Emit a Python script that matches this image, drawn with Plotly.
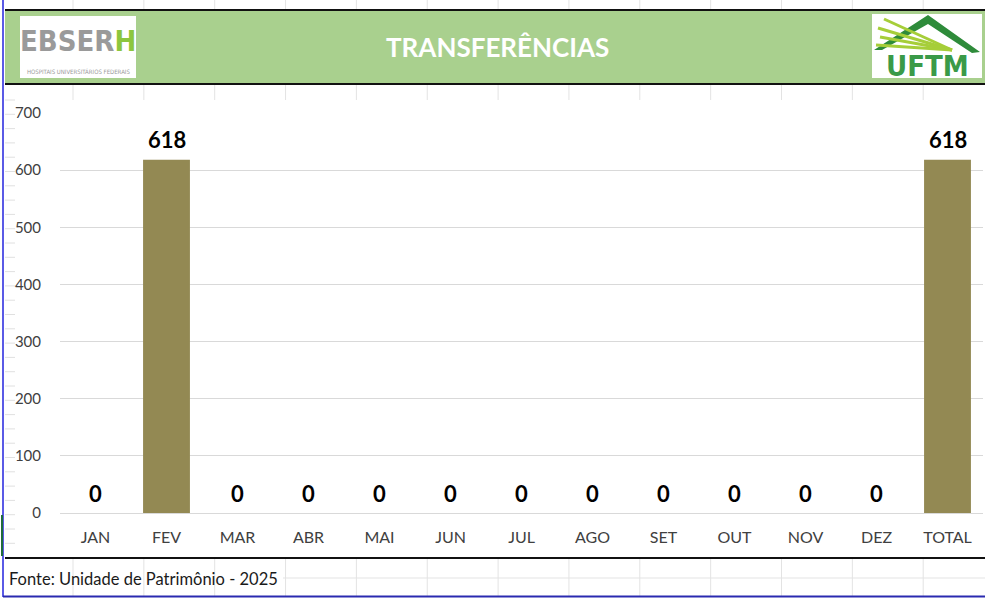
import plotly.graph_objects as go

# ---- data ----
categories = ["JAN", "FEV", "MAR", "ABR", "MAI", "JUN", "JUL", "AGO", "SET", "OUT", "NOV", "DEZ", "TOTAL"]
values = [0, 618, 0, 0, 0, 0, 0, 0, 0, 0, 0, 0, 618]
y_ticks = [0, 100, 200, 300, 400, 500, 600, 700]
title_text = "TRANSFERÊNCIAS"
source_text = "Fonte: Unidade de Patrimônio - 2025"

W, H = 985, 598
L, R, T, B = 60, 2, 113, 85
PW, PH = W - L - R, H - T - B


def px(x):
    return (x - L) / PW


def py(y):
    return (H - B - y) / PH


BAR = "#938953"
GREEN = "#A9D08E"
FONT = "Lato, 'Open Sans', sans-serif"

fig = go.Figure()
fig.add_trace(go.Bar(
    x=categories, y=values, marker=dict(color=BAR, line=dict(width=0)),
    hoverinfo="x+y", showlegend=False,
))

annotations = []
for c, v in zip(categories, values):
    annotations.append(dict(
        x=c, y=v, xref="x", yref="y", text=f"<b>{v}</b>", showarrow=False,
        yanchor="middle", yshift=20, font=dict(family=FONT, size=22, color="#000000"),
    ))

shapes = []
# faint spreadsheet cell lines behind
cell_col = "#E3E3E3"
for k in range(13):
    xx = 73 + k * 70.85
    for (y0, y1) in [(0, 10), (85, 100), (559, 596)]:
        shapes.append(dict(type="line", xref="paper", yref="paper",
                           x0=px(xx), x1=px(xx), y0=py(y0), y1=py(y1),
                           line=dict(color=cell_col, width=1), layer="below"))
shapes.append(dict(type="line", xref="paper", yref="paper",
                   x0=px(283), x1=px(985), y0=py(578), y1=py(578),
                   line=dict(color=cell_col, width=1), layer="below"))
ry = 100.0
while ry < 556:
    shapes.append(dict(type="line", xref="paper", yref="paper",
                       x0=px(5), x1=px(15), y0=py(ry), y1=py(ry),
                       line=dict(color="#E0E0E0", width=1), layer="below"))
    ry += 14.3

# header band
shapes.append(dict(type="rect", xref="paper", yref="paper",
                   x0=px(5), x1=px(985), y0=py(84), y1=py(10),
                   fillcolor=GREEN, line=dict(width=0)))
for yy in (10, 84, 558):
    shapes.append(dict(type="line", xref="paper", yref="paper",
                       x0=px(5), x1=px(985), y0=py(yy), y1=py(yy),
                       line=dict(color="#111111", width=2)))
# outer blue frame
shapes.append(dict(type="line", xref="paper", yref="paper",
                   x0=px(3), x1=px(3), y0=py(0), y1=py(597),
                   line=dict(color="#5A5AE6", width=2)))
shapes.append(dict(type="line", xref="paper", yref="paper",
                   x0=px(3), x1=px(985), y0=py(596.5), y1=py(596.5),
                   line=dict(color="#2A2AB0", width=2)))
shapes.append(dict(type="line", xref="paper", yref="paper",
                   x0=px(2), x1=px(2), y0=py(515), y1=py(556),
                   line=dict(color="#1F6B3A", width=2)))

# EBSERH logo box
shapes.append(dict(type="rect", xref="paper", yref="paper",
                   x0=px(20), x1=px(136), y0=py(78), y1=py(16),
                   fillcolor="#FFFFFF", line=dict(width=0)))
annotations.append(dict(x=px(78), y=py(41), xref="paper", yref="paper", showarrow=False,
                        text="<b>EBSER<span style='color:#8CC63E'>H</span></b>",
                        font=dict(family="'DejaVu Sans Condensed', 'DejaVu Sans'", size=29, color="#9A9A9A"),
                        xanchor="center", yanchor="middle"))
annotations.append(dict(x=px(78), y=py(72), xref="paper", yref="paper", showarrow=False,
                        text="HOSPITAIS UNIVERSITÁRIOS FEDERAIS",
                        font=dict(family="'DejaVu Sans Condensed', 'DejaVu Sans'", size=6, color="#9A9A9A"),
                        xanchor="center", yanchor="middle"))

# UFTM logo box
shapes.append(dict(type="rect", xref="paper", yref="paper",
                   x0=px(872), x1=px(982), y0=py(78), y1=py(14),
                   fillcolor="#FFFFFF", line=dict(width=0)))


def ppath(pts):
    s = "M " + " L ".join(f"{px(a)},{py(b)}" for a, b in pts) + " Z"
    return s


shapes.append(dict(type="path", xref="paper", yref="paper",
                   path=ppath([(874, 50), (928, 15), (980, 52), (972, 53), (928, 24), (882, 50)]),
                   fillcolor="#2E8B3A", line=dict(width=0)))
for (sx, sy) in [(884, 19), (878, 28), (880, 37), (876, 45)]:
    shapes.append(dict(type="line", xref="paper", yref="paper",
                       x0=px(sx), y0=py(sy), x1=px(952), y1=py(50),
                       line=dict(color="#A6CE39", width=3)))
annotations.append(dict(x=px(927), y=py(66), xref="paper", yref="paper", showarrow=False,
                        text="<b>UFTM</b>",
                        font=dict(family="'DejaVu Sans Condensed', 'DejaVu Sans'", size=29, color="#3A9A48"),
                        xanchor="center", yanchor="middle"))

# title
annotations.append(dict(x=px(497), y=py(47), xref="paper", yref="paper", showarrow=False,
                        text=f"<b>{title_text}</b>",
                        font=dict(family=FONT, size=26, color="#FFFFFF"),
                        xanchor="center", yanchor="middle"))
# source
annotations.append(dict(x=px(7), y=py(579), xref="paper", yref="paper", showarrow=False,
                        text=source_text,
                        font=dict(family=FONT, size=16.5, color="#1A1A1A"),
                        xanchor="left", yanchor="middle"))

fig.update_layout(
    width=W, height=H,
    margin=dict(l=L, r=R, t=T, b=B, pad=0),
    paper_bgcolor="#FFFFFF", plot_bgcolor="#FFFFFF",
    bargap=0.34,
    shapes=shapes, annotations=annotations,
    font=dict(family=FONT, size=14, color="#404040"),
)
fig.update_xaxes(
    type="category", showgrid=False, zeroline=False, showline=False,
    ticks="", ticklabelstandoff=13, tickfont=dict(family=FONT, size=16, color="#404040"),
    fixedrange=True,
)
fig.update_yaxes(
    range=[0, 700], tickvals=y_ticks, showgrid=True, gridcolor="#D9D9D9", gridwidth=1,
    zeroline=True, zerolinecolor="#D9D9D9", zerolinewidth=1, showline=False,
    ticks="", ticklabelstandoff=18, tickfont=dict(family=FONT, size=15, color="#404040"),
    fixedrange=True,
)

fig.write_html("out.html", config={"displayModeBar": False},
               post_script="document.body.style.margin='0';document.body.style.overflow='hidden';")
